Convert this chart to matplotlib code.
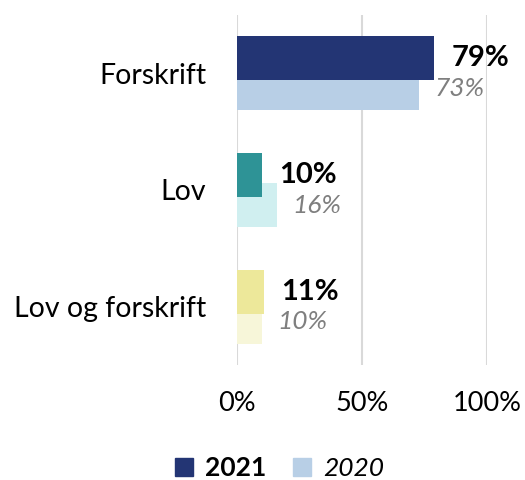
import matplotlib.pyplot as plt
from matplotlib.patches import Patch

plt.rcParams['font.family'] = ['Lato', 'DejaVu Sans']

categories = ['Forskrift', 'Lov', 'Lov og forskrift']
values_2021 = [79, 10, 11]
values_2020 = [73, 16, 10]
labels_2021 = ['79%', '10%', '11%']
labels_2020 = ['73%', '16%', '10%']
colors_2021 = ['#233574', '#2e9396', '#ede89a']
colors_2020 = ['#b8cfe6', '#d0eff0', '#f7f6d9']
ticks = [0, 50, 100]
tick_labels = ['0%', '50%', '100%']

fig = plt.figure(figsize=(5.25, 4.8), dpi=100)
ax = fig.add_axes([0.4514, 0.2396, 0.4762, 0.7292])

h = 0.377
off = 0.129
pos = list(range(len(categories)))

# 2020 first so the 2021 bars lie on top
ax.barh([p + off for p in pos], values_2020, height=h, color=colors_2020, zorder=2)
ax.barh([p - off for p in pos], values_2021, height=h, color=colors_2021, zorder=3)

for p, v, t in zip(pos, values_2021, labels_2021):
    ax.annotate(t, (v, p - off), xytext=(12, 0), textcoords='offset points',
                ha='left', va='center', fontsize=21, fontweight='bold', color='black')
for p, v, t in zip(pos, values_2020, labels_2020):
    ax.annotate(t, (v, p + off), xytext=(11, 0), textcoords='offset points',
                ha='left', va='center', fontsize=19, fontstyle='italic', color='#7f7f7f')

ax.set_xlim(0, 100)
ax.set_ylim(2.5, -0.5)
ax.set_xticks(ticks)
ax.set_xticklabels(tick_labels, fontsize=19.5)
ax.set_yticks(pos)
ax.set_yticklabels(categories, fontsize=20.5)
ax.tick_params(axis='both', length=0)
ax.tick_params(axis='x', pad=19)
ax.tick_params(axis='y', pad=22)
ax.grid(axis='x', color='#d9d9d9', linewidth=1.5, zorder=0)
for s in ax.spines.values():
    s.set_visible(False)

handles = [Patch(color=colors_2021[0]), Patch(color=colors_2020[0])]
leg = fig.legend(handles, ['2021', '2020'], loc='center', bbox_to_anchor=(0.532, 0.025),
                 ncol=2, frameon=False, fontsize=19, handlelength=0.7, handleheight=0.7,
                 handletextpad=0.45, columnspacing=1.0)
leg.get_texts()[0].set_fontweight('bold')
leg.get_texts()[1].set_fontstyle('italic')

fig.savefig('out.png', dpi=100)
